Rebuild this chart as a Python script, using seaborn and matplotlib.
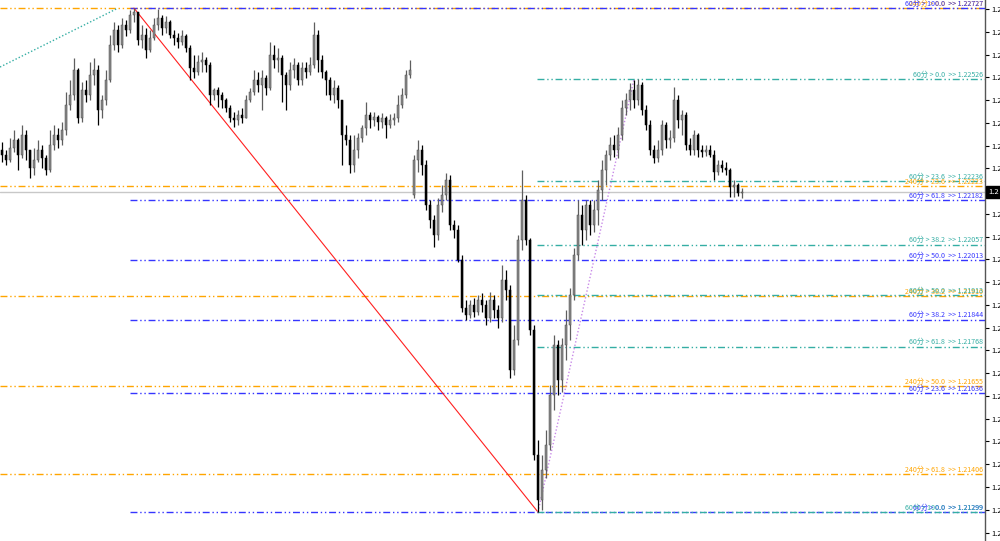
import numpy as np
import matplotlib
matplotlib.use("Agg")
import matplotlib.pyplot as plt
import matplotlib.transforms as mtransforms
import seaborn as sns

# ---------------- data (prices) ----------------
opens = [1.22325, 1.22311, 1.22297, 1.22331, 1.22353, 1.22311, 1.22368, 1.22325, 1.22274, 1.22297,
         1.22325, 1.22302, 1.22268, 1.22339, 1.22368, 1.22353, 1.22382, 1.22453, 1.22481, 1.22552,
         1.22416, 1.22495, 1.22481, 1.22538, 1.22552, 1.22438, 1.22467, 1.22523, 1.22623, 1.22665,
         1.22623, 1.22679, 1.22665, 1.22708, 1.22716, 1.22637, 1.22651, 1.22608, 1.22642, 1.22679,
         1.22699, 1.22671, 1.22688, 1.22651, 1.22642, 1.22631, 1.22648, 1.22614, 1.22557, 1.22546,
         1.22574, 1.22580, 1.22566, 1.22481, 1.22495, 1.22481, 1.22467, 1.22444, 1.22416, 1.22410,
         1.22424, 1.22416, 1.22467, 1.22489, 1.22523, 1.22509, 1.22529, 1.22501, 1.22594, 1.22580,
         1.22586, 1.22538, 1.22509, 1.22552, 1.22566, 1.22523, 1.22557, 1.22546, 1.22566, 1.22651,
         1.22580, 1.22546, 1.22523, 1.22481, 1.22501, 1.22467, 1.22368, 1.22353, 1.22283, 1.22325,
         1.22359, 1.22387, 1.22424, 1.22410, 1.22419, 1.22404, 1.22416, 1.22396, 1.22410, 1.22416,
         1.22453, 1.22481, 1.22538, 1.22197, 1.22297, 1.22325, 1.22283, 1.22169, 1.22127, 1.22084,
         1.22169, 1.22197, 1.22240, 1.22113, 1.22098, 1.22013, 1.21877, 1.21858, 1.21886, 1.21866,
         1.21900, 1.21886, 1.21849, 1.21900, 1.21872, 1.21849, 1.21957, 1.21928, 1.21702, 1.21787,
         1.22070, 1.22183, 1.22070, 1.21815, 1.21461, 1.21333, 1.21418, 1.21489, 1.21631, 1.21773,
         1.21673, 1.21773, 1.21829, 1.21914, 1.22028, 1.22141, 1.22098, 1.22169, 1.22113, 1.22155,
         1.22212, 1.22268, 1.22311, 1.22339, 1.22325, 1.22368, 1.22444, 1.22467, 1.22495, 1.22467,
         1.22509, 1.22438, 1.22396, 1.22325, 1.22302, 1.22325, 1.22396, 1.22353, 1.22359, 1.22467,
         1.22410, 1.22424, 1.22339, 1.22325, 1.22368, 1.22325, 1.22319, 1.22325, 1.22311, 1.22263,
         1.22283, 1.22274, 1.22268, 1.22220, 1.22226, 1.22203]

highs = [1.22348, 1.22325, 1.22359, 1.22382, 1.22359, 1.22396, 1.22382, 1.22325, 1.22331, 1.22353,
         1.22339, 1.22311, 1.22382, 1.22396, 1.22387, 1.22404, 1.22489, 1.22523, 1.22586, 1.22557,
         1.22518, 1.22523, 1.22574, 1.22586, 1.22566, 1.22481, 1.22552, 1.22651, 1.22688, 1.22679,
         1.22699, 1.22693, 1.22722, 1.22727, 1.22716, 1.22679, 1.22671, 1.22665, 1.22699, 1.22724,
         1.22708, 1.22705, 1.22693, 1.22665, 1.22657, 1.22665, 1.22654, 1.22623, 1.22594, 1.22594,
         1.22603, 1.22589, 1.22574, 1.22501, 1.22504, 1.22489, 1.22472, 1.22453, 1.22433, 1.22438,
         1.22444, 1.22481, 1.22501, 1.22552, 1.22546, 1.22552, 1.22538, 1.22631, 1.22623, 1.22614,
         1.22594, 1.22546, 1.22574, 1.22586, 1.22574, 1.22574, 1.22574, 1.22589, 1.22688, 1.22665,
         1.22594, 1.22552, 1.22532, 1.22523, 1.22509, 1.22467, 1.22396, 1.22368, 1.22368, 1.22373,
         1.22396, 1.22461, 1.22433, 1.22433, 1.22424, 1.22430, 1.22421, 1.22427, 1.22430, 1.22481,
         1.22501, 1.22552, 1.22580, 1.22311, 1.22353, 1.22339, 1.22297, 1.22183, 1.22141, 1.22189,
         1.22226, 1.22260, 1.22254, 1.22127, 1.22113, 1.22028, 1.21900, 1.21900, 1.21906, 1.21914,
         1.21920, 1.21900, 1.21923, 1.21914, 1.21886, 1.21999, 1.21985, 1.21942, 1.21829, 1.22084,
         1.22268, 1.22197, 1.22076, 1.21829, 1.21503, 1.21461, 1.21532, 1.21659, 1.21801, 1.21787,
         1.21792, 1.21872, 1.21934, 1.22047, 1.22183, 1.22169, 1.22183, 1.22183, 1.22183, 1.22240,
         1.22297, 1.22325, 1.22362, 1.22368, 1.22390, 1.22467, 1.22487, 1.22515, 1.22523, 1.22526,
         1.22518, 1.22453, 1.22410, 1.22339, 1.22353, 1.22410, 1.22404, 1.22382, 1.22504, 1.22481,
         1.22438, 1.22433, 1.22359, 1.22382, 1.22373, 1.22339, 1.22339, 1.22339, 1.22325, 1.22297,
         1.22297, 1.22291, 1.22274, 1.22240, 1.22231, 1.22218]

lows = [1.22291, 1.22283, 1.22291, 1.22319, 1.22268, 1.22302, 1.22297, 1.22246, 1.22254, 1.22291,
        1.22274, 1.22254, 1.22263, 1.22325, 1.22331, 1.22339, 1.22368, 1.22438, 1.22467, 1.22402,
        1.22404, 1.22461, 1.22467, 1.22509, 1.22396, 1.22416, 1.22453, 1.22518, 1.22608, 1.22603,
        1.22614, 1.22648, 1.22657, 1.22688, 1.22623, 1.22614, 1.22586, 1.22603, 1.22637, 1.22665,
        1.22651, 1.22657, 1.22642, 1.22623, 1.22614, 1.22623, 1.22603, 1.22523, 1.22529, 1.22538,
        1.22546, 1.22546, 1.22453, 1.22467, 1.22447, 1.22444, 1.22433, 1.22404, 1.22390, 1.22396,
        1.22402, 1.22416, 1.22461, 1.22481, 1.22489, 1.22438, 1.22481, 1.22495, 1.22557, 1.22546,
        1.22461, 1.22438, 1.22495, 1.22529, 1.22509, 1.22509, 1.22529, 1.22538, 1.22557, 1.22546,
        1.22529, 1.22481, 1.22467, 1.22458, 1.22444, 1.22283, 1.22339, 1.22260, 1.22263, 1.22302,
        1.22348, 1.22368, 1.22387, 1.22393, 1.22382, 1.22387, 1.22359, 1.22387, 1.22396, 1.22404,
        1.22444, 1.22472, 1.22529, 1.22189, 1.22263, 1.22254, 1.22155, 1.22104, 1.22050, 1.22070,
        1.22149, 1.22183, 1.22098, 1.22076, 1.22008, 1.21866, 1.21843, 1.21849, 1.21852, 1.21858,
        1.21866, 1.21829, 1.21838, 1.21849, 1.21821, 1.21838, 1.21900, 1.21679, 1.21688, 1.21773,
        1.22042, 1.22056, 1.21801, 1.21447, 1.21299, 1.21305, 1.21396, 1.21475, 1.21588, 1.21631,
        1.21639, 1.21730, 1.21787, 1.21900, 1.22013, 1.22056, 1.22070, 1.22084, 1.22093, 1.22113,
        1.22183, 1.22226, 1.22297, 1.22305, 1.22302, 1.22353, 1.22424, 1.22438, 1.22444, 1.22453,
        1.22424, 1.22382, 1.22311, 1.22288, 1.22291, 1.22311, 1.22331, 1.22331, 1.22348, 1.22387,
        1.22368, 1.22325, 1.22311, 1.22311, 1.22305, 1.22305, 1.22308, 1.22305, 1.22240, 1.22254,
        1.22263, 1.22254, 1.22192, 1.22192, 1.22195, 1.22189]

closes = [1.22311, 1.22297, 1.22331, 1.22353, 1.22311, 1.22368, 1.22325, 1.22274, 1.22297, 1.22325,
          1.22302, 1.22268, 1.22339, 1.22368, 1.22353, 1.22382, 1.22453, 1.22481, 1.22552, 1.22416,
          1.22495, 1.22481, 1.22538, 1.22552, 1.22438, 1.22467, 1.22523, 1.22623, 1.22665, 1.22623,
          1.22679, 1.22665, 1.22708, 1.22716, 1.22637, 1.22651, 1.22608, 1.22642, 1.22679, 1.22699,
          1.22671, 1.22688, 1.22651, 1.22642, 1.22631, 1.22648, 1.22614, 1.22557, 1.22546, 1.22574,
          1.22580, 1.22566, 1.22481, 1.22495, 1.22481, 1.22467, 1.22444, 1.22416, 1.22410, 1.22424,
          1.22416, 1.22467, 1.22489, 1.22523, 1.22509, 1.22529, 1.22501, 1.22594, 1.22580, 1.22586,
          1.22538, 1.22509, 1.22552, 1.22566, 1.22523, 1.22557, 1.22546, 1.22566, 1.22651, 1.22580,
          1.22546, 1.22523, 1.22481, 1.22501, 1.22467, 1.22368, 1.22353, 1.22283, 1.22325, 1.22359,
          1.22387, 1.22424, 1.22410, 1.22419, 1.22404, 1.22416, 1.22396, 1.22410, 1.22416, 1.22453,
          1.22481, 1.22538, 1.22552, 1.22297, 1.22325, 1.22283, 1.22169, 1.22127, 1.22084, 1.22169,
          1.22197, 1.22240, 1.22113, 1.22098, 1.22013, 1.21877, 1.21858, 1.21886, 1.21866, 1.21900,
          1.21886, 1.21849, 1.21900, 1.21872, 1.21849, 1.21957, 1.21928, 1.21702, 1.21787, 1.22070,
          1.22183, 1.22070, 1.21815, 1.21461, 1.21333, 1.21418, 1.21489, 1.21631, 1.21773, 1.21673,
          1.21773, 1.21829, 1.21914, 1.22028, 1.22141, 1.22098, 1.22169, 1.22113, 1.22155, 1.22212,
          1.22268, 1.22311, 1.22339, 1.22325, 1.22368, 1.22444, 1.22467, 1.22495, 1.22467, 1.22509,
          1.22438, 1.22396, 1.22325, 1.22302, 1.22325, 1.22396, 1.22353, 1.22359, 1.22467, 1.22410,
          1.22424, 1.22339, 1.22325, 1.22368, 1.22325, 1.22319, 1.22325, 1.22311, 1.22263, 1.22283,
          1.22274, 1.22268, 1.22220, 1.22226, 1.22203, 1.22206]

# Fibonacci retracements
blue_levels = [0.0, 23.6, 38.2, 50.0, 61.8, 100.0]
blue_prices = [1.21299, 1.21636, 1.21844, 1.22013, 1.22182, 1.22727]
teal_levels = [0.0, 23.6, 38.2, 50.0, 61.8, 100.0]
teal_prices = [1.22526, 1.22236, 1.22057, 1.21913, 1.21768, 1.21299]
orange_levels = [0.0, 23.6, 38.2, 50.0, 61.8]
orange_prices = [1.22727, 1.22223, 1.21910, 1.21655, 1.21406]

# trend lines: (candle index, price)
red_x, red_y = [33, 134], [1.22727, 1.21299]
purple_x, purple_y = [134, 158], [1.21299, 1.22526]
tealtrend_x, tealtrend_y = [-0.5, 29], [1.22560, 1.22727]

# y-axis ticks (all labelled "1.2")
yticks = [1.21240, 1.21305, 1.21370, 1.21434, 1.21499, 1.21563, 1.21628, 1.21692,
          1.21757, 1.21821, 1.21886, 1.21950, 1.22015, 1.22079, 1.22144, 1.22208,
          1.22273, 1.22337, 1.22402, 1.22466, 1.22531, 1.22595, 1.22660, 1.22724]

# ---------------- style ----------------
sns.set_style("white")
plt.rcParams['font.family'] = ['Noto Sans CJK SC', 'DejaVu Sans']

ORANGE = '#FFA500'
BLUE = '#3535ff'
TEAL = '#35aea4'
DDOT = (0, (5, 2, 1, 2, 1, 2))

fig = plt.figure(figsize=(10, 5.41), dpi=100)
ax = fig.add_axes([0, 0, 0.985, 1])
XMIN, XMAX = -0.5, 245.75
ax.set_xlim(XMIN, XMAX)
ax.set_ylim(1.21217, 1.22750)

o = np.array(opens); h = np.array(highs); l = np.array(lows); c = np.array(closes)
idx = np.arange(len(c))

# fib lines
ax.hlines(orange_prices, XMIN, XMAX, colors=ORANGE, linestyles=DDOT, lw=1, zorder=1)
ax.hlines(blue_prices, 32.1, XMAX, colors=BLUE, linestyles=DDOT, lw=1, zorder=1.1)
ax.hlines(teal_prices, 133.7, XMAX, colors=TEAL, linestyles=DDOT, lw=1, zorder=1.2)

# current price line
ax.axhline(c[-1], color='#c8c8c8', lw=1, zorder=0.9)

# trend lines via seaborn
sns.lineplot(x=red_x, y=red_y, ax=ax, color='#ff2020', lw=0.8, sort=False, zorder=2)
sns.lineplot(x=purple_x, y=purple_y, ax=ax, color='#c88ae8', lw=1, sort=False,
             linestyle=(0, (1, 1.5)), zorder=2)
sns.lineplot(x=tealtrend_x, y=tealtrend_y, ax=ax, color=TEAL, lw=1, sort=False,
             linestyle=(0, (1, 1.5)), zorder=2)

# candles
up = c >= o
body_lo = np.minimum(o, c)
body_h = np.maximum(np.abs(c - o), 0.000015)
wick_col = np.where(up, '#5e5e5e', '#000000')
ax.vlines(idx, l, h, colors=wick_col, lw=0.9, zorder=3)
ax.bar(idx[up], body_h[up], bottom=body_lo[up], width=0.65, color='#8a8a8a',
       edgecolor='#4a4a4a', linewidth=0.35, zorder=4)
ax.bar(idx[~up], body_h[~up], bottom=body_lo[~up], width=0.65, color='#000000',
       edgecolor='#000000', linewidth=0.35, zorder=4)

# labels
trans = mtransforms.blended_transform_factory(ax.transAxes, ax.transData)
def lab(price, text, color, z):
    ax.text(0.998, price + 0.00001, text, transform=trans, ha='right', va='bottom',
            fontsize=5.1, color=color, zorder=z)

for lv, p in zip(orange_levels, orange_prices):
    lab(p, f"240分 > {lv:.1f}  >> {p:.5f}", ORANGE, 5)
for lv, p in zip(blue_levels, blue_prices):
    lab(p, f"60分 > {lv:.1f}  >> {p:.5f}", BLUE, 6)
for lv, p in zip(teal_levels, teal_prices):
    lab(p, f"60分 > {lv:.1f}  >> {p:.5f}", TEAL, 6)

# axes
for s in ['top', 'left', 'bottom']:
    ax.spines[s].set_visible(False)
ax.spines['right'].set_color('#555555')
ax.spines['right'].set_linewidth(1)
ax.yaxis.tick_right()
ax.set_yticks(yticks)
ax.set_yticklabels(['1.2'] * len(yticks))
ax.tick_params(axis='y', direction='out', length=3, width=0.8, colors='black',
               labelsize=5.5, pad=1.5)
ax.set_xticks([])
ax.set_xlabel(''); ax.set_ylabel('')

# current price box
ax.text(1.003, c[-1], '1.2', transform=trans, ha='left', va='center', fontsize=5.5,
        color='white', zorder=10, clip_on=False,
        bbox=dict(boxstyle='square,pad=0.25', facecolor='black', edgecolor='black'))

fig.savefig('out.png', dpi=100)
